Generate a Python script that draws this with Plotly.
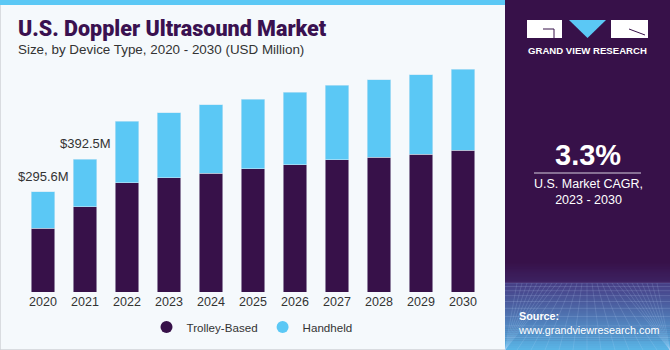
import plotly.graph_objects as go

years = ["2020", "2021", "2022", "2023", "2024", "2025", "2026", "2027", "2028", "2029", "2030"]
trolley = [189, 252, 323, 337, 351, 364, 376, 390, 398, 407, 418]
handheld = [106.6, 140.5, 182, 192, 202, 206, 214, 221, 229, 235, 240]
totals_labels = {"2020": "$295.6M", "2021": "$392.5M"}

W, H = 670, 350
PURPLE = "#371149"
BLUE = "#5BC8F5"
BG = "#F5F9FC"

def px(x):
    return x / W

def py(y):
    return 1 - y / H

fig = go.Figure()
fig.add_trace(go.Bar(x=years, y=trolley, name="Trolley-Based", marker_color=PURPLE, showlegend=False,
                     marker_line=dict(color="#c9cbd9", width=0.6)))
fig.add_trace(go.Bar(x=years, y=handheld, name="Handheld", marker_color=BLUE, showlegend=False,
                     marker_line=dict(color="#c9e6f5", width=0.6)))
fig.add_trace(go.Scatter(x=[None], y=[None], mode="markers", name="Trolley-Based",
                         marker=dict(symbol="circle", size=11, color=PURPLE)))
fig.add_trace(go.Scatter(x=[None], y=[None], mode="markers", name="Handheld",
                         marker=dict(symbol="circle", size=11, color=BLUE)))

shapes = []
shapes.append(dict(type="rect", xref="paper", yref="paper", x0=0, x1=1, y0=0, y1=1,
                   fillcolor=BG, line=dict(color="#cfd2d6", width=1.5), layer="below"))
shapes.append(dict(type="rect", xref="paper", yref="paper", x0=0, x1=px(505), y0=py(5), y1=1,
                   fillcolor=BLUE, line_width=0, layer="below"))
shapes.append(dict(type="rect", xref="paper", yref="paper", x0=px(505), x1=1, y0=0, y1=1,
                   fillcolor=PURPLE, line_width=0, layer="below"))

def lerp(c1, c2, t):
    return "#%02x%02x%02x" % tuple(int(round(a + (b - a) * t)) for a, b in zip(c1, c2))

c_top = (0x37, 0x11, 0x49)
c_mid = (0x46, 0x3f, 0x86)
c_bot = (0x5a, 0xb8, 0xe8)
n = 22
y_start, y_edge, y_end = 262, 283, 350
for i in range(n):
    y0 = y_start + (y_edge - y_start) * i / n
    y1 = y_start + (y_edge - y_start) * (i + 1) / n + 0.5
    shapes.append(dict(type="rect", xref="paper", yref="paper", x0=px(505), x1=1, y0=py(y1), y1=py(y0),
                       fillcolor=lerp(c_top, (0x3f, 0x25, 0x66), i / n), line_width=0, layer="below"))
n2 = 34
for i in range(n2):
    y0 = y_edge + (y_end - y_edge) * i / n2
    y1 = y_edge + (y_end - y_edge) * (i + 1) / n2 + 0.5
    shapes.append(dict(type="rect", xref="paper", yref="paper", x0=px(505), x1=1, y0=py(min(y1, 350)), y1=py(y0),
                       fillcolor=lerp(c_mid, c_bot, (i / n2) ** 1.1), line_width=0, layer="below"))
gy = 283
step = 3
while gy < 350:
    shapes.append(dict(type="line", xref="paper", yref="paper", x0=px(505), x1=1, y0=py(gy), y1=py(gy),
                       line=dict(color="rgba(200,220,255,0.22)", width=0.8), layer="below"))
    step *= 1.18
    gy += step
vx = 587
for k in range(-14, 15):
    xb = vx + k * 14
    xt = vx + k * 5
    shapes.append(dict(type="line", xref="paper", yref="paper", x0=px(max(min(xt, 670), 505)), x1=px(max(min(xb, 670), 505)),
                       y0=py(283), y1=py(350), line=dict(color="rgba(200,220,255,0.2)", width=0.8), layer="below"))

# logo
shapes.append(dict(type="rect", xref="paper", yref="paper", x0=px(527), x1=px(562), y0=py(38), y1=py(20),
                   fillcolor="white", line_width=0))
shapes.append(dict(type="path", xref="paper", yref="paper",
                   path=f"M {px(543)} {py(29)} L {px(554)} {py(29)} L {px(554)} {py(38)}",
                   line=dict(color=PURPLE, width=1)))
shapes.append(dict(type="path", xref="paper", yref="paper",
                   path=f"M {px(569)} {py(20)} L {px(606)} {py(20)} L {px(587.5)} {py(38)} Z",
                   fillcolor=BLUE, line_width=0))
shapes.append(dict(type="rect", xref="paper", yref="paper", x0=px(611), x1=px(648), y0=py(38), y1=py(20),
                   fillcolor="white", line_width=0))
shapes.append(dict(type="path", xref="paper", yref="paper",
                   path=f"M {px(629)} {py(29)} L {px(645)} {py(35)}",
                   line=dict(color=PURPLE, width=1)))
shapes.append(dict(type="line", xref="paper", yref="paper", x0=px(534), x1=px(641), y0=py(173), y1=py(173),
                   line=dict(color="#d8d0e0", width=1.2)))

annotations = []
FONT = "Liberation Sans"
annotations.append(dict(xref="paper", yref="paper", x=px(16), y=py(29), xanchor="left", yanchor="middle",
                        text="U.S. Doppler Ultrasound Market", showarrow=False,
                        font=dict(family="Roboto", size=21.5, color="#3A1150", weight=900)))
annotations.append(dict(xref="paper", yref="paper", x=px(16), y=py(49), xanchor="left", yanchor="middle",
                        text="Size, by Device Type, 2020 - 2030 (USD Million)", showarrow=False,
                        font=dict(family=FONT, size=13.4, color="#333333")))
for yr, lab in totals_labels.items():
    idx = years.index(yr)
    tot = trolley[idx] + handheld[idx]
    annotations.append(dict(x=idx, y=tot, xref="x", yref="y", yanchor="bottom", yshift=6, text=lab,
                            showarrow=False, font=dict(family=FONT, size=13, color="#333333")))
annotations.append(dict(xref="paper", yref="paper", x=px(587.5), y=py(51), xanchor="center", yanchor="middle",
                        text="<b>GRAND VIEW RESEARCH</b>", showarrow=False,
                        font=dict(family=FONT, size=9.6, color="white")))
annotations.append(dict(xref="paper", yref="paper", x=px(588), y=py(155), xanchor="center", yanchor="middle",
                        text="<b>3.3%</b>", showarrow=False,
                        font=dict(family=FONT, size=29, color="white")))
annotations.append(dict(xref="paper", yref="paper", x=px(588), y=py(192), xanchor="center", yanchor="middle",
                        text="U.S. Market CAGR,<br>2023 - 2030", showarrow=False,
                        font=dict(family=FONT, size=12.5, color="white")))
annotations.append(dict(xref="paper", yref="paper", x=px(516), y=py(323), xanchor="left", yanchor="middle",
                        text="<b>Source:</b><br>www.grandviewresearch.com", showarrow=False, align="left",
                        font=dict(family=FONT, size=10.8, color="white")))

fig.update_layout(
    width=W, height=H,
    margin=dict(l=0, r=0, t=0, b=0),
    paper_bgcolor=BG, plot_bgcolor="rgba(0,0,0,0)",
    barmode="stack", bargap=0.43,
    showlegend=True,
    legend=dict(orientation="h", x=px(252), y=py(327), xanchor="center", yanchor="middle",
                font=dict(family=FONT, size=11.6, color="#333333"), bgcolor="rgba(0,0,0,0)",
                itemsizing="constant", traceorder="normal", itemwidth=30),
    xaxis=dict(type="category", domain=[px(22), px(484)], range=[-0.5, len(years) - 0.5],
               showgrid=False, showline=False, zeroline=False,
               tickfont=dict(family=FONT, size=12.5, color="#333333"), ticks=""),
    yaxis=dict(domain=[py(292), py(55)], range=[0, 700], visible=False, showgrid=False),
    shapes=shapes, annotations=annotations,
    font=dict(family=FONT),
)
fig.write_html("out.html")
